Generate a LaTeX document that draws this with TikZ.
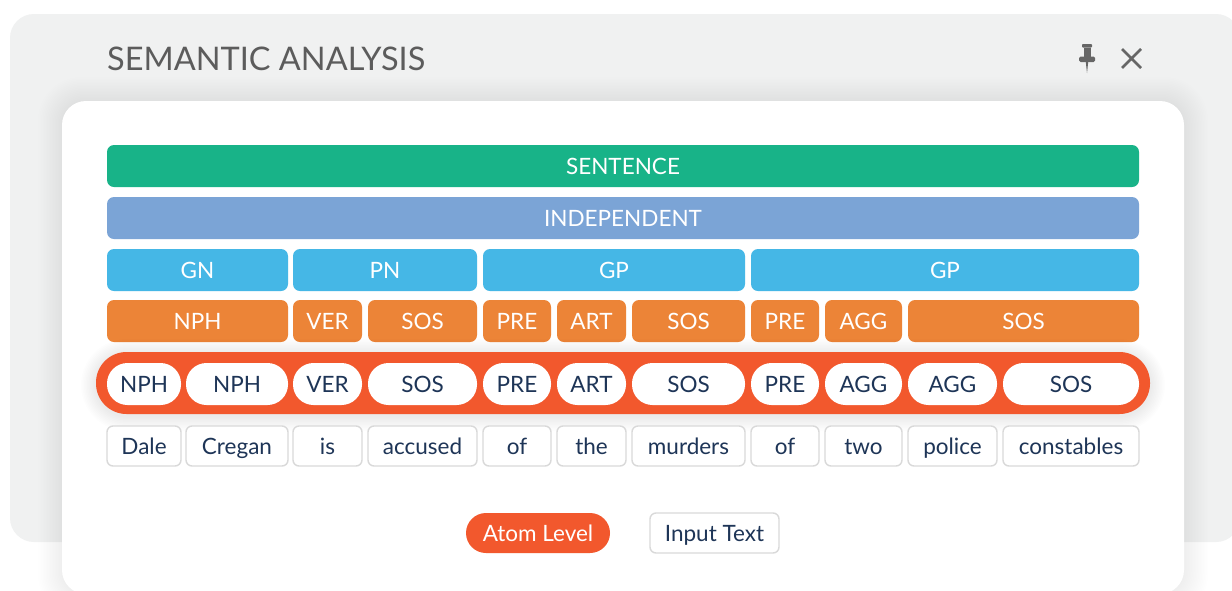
\documentclass[tikz,border=0pt]{standalone}
\usepackage{fontspec}
\setmainfont{Lato}
\definecolor{panelgrey}{HTML}{F0F1F1}
\definecolor{titlegrey}{HTML}{5C5C5C}
\definecolor{icongrey}{HTML}{666666}
\definecolor{sentgreen}{HTML}{18B388}
\definecolor{indblue}{HTML}{7BA4D6}
\definecolor{phrblue}{HTML}{45B7E6}
\definecolor{catorange}{HTML}{EC8437}
\definecolor{atomred}{HTML}{F2582D}
\definecolor{navy}{HTML}{1E3557}
\definecolor{wordborder}{HTML}{D9D9D9}
\tikzset{
  label text/.style={font=\fontsize{22.5}{26}\selectfont, text height=16pt, text depth=0pt},
  bar/.style={fill=#1, rounded corners=7pt, inner sep=0pt, minimum height=42pt,
    text=white, label text},
  pill/.style={fill=white, rounded corners=20.5pt, inner sep=0pt, minimum height=42pt,
    text=navy, label text},
  wordbox/.style={draw=wordborder, line width=1.4pt, fill=white, rounded corners=6pt,
    inner sep=0pt, minimum height=40pt, text=navy, label text},
}
\begin{document}
\begin{tikzpicture}[x=1pt,y=-1pt]
\clip (0,0) rectangle (1232,590);
\fill[white] (0,0) rectangle (1232,590);
% outer grey panel
\fill[panelgrey, rounded corners=24pt] (10,14) rectangle (1240,542);
\node[anchor=base west, text=titlegrey, inner sep=0pt, font=\fontsize{32.5}{36}\selectfont] (title) at (107,70) {SEMANTIC ANALYSIS};
% pin icon
\fill[icongrey, rounded corners=0.8pt] (1082,44) rectangle (1092,47.5);
\fill[icongrey] (1083.5,47.5) rectangle (1090.5,57);
\fill[icongrey, rounded corners=1.5pt] (1079,56.5) rectangle (1095,62);
\fill[icongrey] (1085.8,62) -- (1088.2,62) -- (1087,73) -- cycle;
% close cross
\draw[icongrey, line width=2.6pt] (1122,49) -- (1141,68) (1141,49) -- (1122,68);
% soft shadow of the card
\foreach \i in {1,...,16}{
  \fill[black, opacity=0.0055, rounded corners={24+\i*1.2}] ({62-\i*1.5},{101-\i*1.5}) rectangle ({1184+\i*1.5},{594+\i*1.5});
}
\fill[white, rounded corners=24pt] (62,101) rectangle (1184,594);
% hierarchy bars
\node[bar=sentgreen, minimum width=1032pt] (sentence) at (623,166) {SENTENCE};
\node[bar=indblue, minimum width=1032pt] (independent) at (623,218) {INDEPENDENT};
\foreach \n/\a/\b/\t in {1/107/288/GN, 2/293/477/PN, 3/483/745/GP, 4/751/1139/GP}{
  \node[bar=phrblue, minimum width={\b-\a}] (p\n) at ({(\a+\b)/2},270) {\t};
}
\foreach \n/\a/\b/\t in {1/107/288/NPH, 2/293/362/VER, 3/368/477/SOS, 4/483/551/PRE, 5/557/626/ART,
  6/632/745/SOS, 7/751/819/PRE, 8/825/902/AGG, 9/908/1139/SOS}{
  \node[bar=catorange, minimum width={\b-\a}] (c\n) at ({(\a+\b)/2},321) {\t};
}
% atom level band
\foreach \i in {1,...,10}{
  \fill[black, opacity=0.008, rounded corners={31+\i*1.5}] ({96-\i*1.5},{352-\i*1.5+2}) rectangle ({1150+\i*1.5},{414+\i*1.5+2});
}
\node[fill=atomred, rounded corners=30.5pt, inner sep=0pt, minimum width=1054pt, minimum height=62pt] (band) at (623,383) {};
\foreach \n/\a/\b/\t in {1/107/181/NPH, 2/186/288/NPH, 3/293/362/VER, 4/368/477/SOS, 5/483/551/PRE,
  6/557/626/ART, 7/632/745/SOS, 8/751/819/PRE, 9/825/902/AGG, 10/908/997/AGG, 11/1003/1139/SOS}{
  \node[pill, minimum width={\b-\a}] (a\n) at ({(\a+\b)/2},384) {\t};
}
% input words
\foreach \n/\a/\b/\t in {1/107/181/Dale, 2/186/288/Cregan, 3/293/362/is, 4/368/477/accused, 5/483/551/of,
  6/557/626/the, 7/632/745/murders, 8/751/819/of, 9/825/902/two, 10/908/997/police, 11/1003/1139/constables}{
  \node[wordbox, minimum width={\b-\a}] (w\n) at ({(\a+\b)/2},446) {\t};
}
% view buttons
\node[fill=atomred, rounded corners=20pt, inner sep=0pt, minimum width=144pt, minimum height=40pt,
  text=white, label text] (atombtn) at (538,533) {Atom Level};
\node[wordbox, minimum width=129pt] (inputbtn) at (714.5,533) {Input Text};
\end{tikzpicture}
\end{document}
